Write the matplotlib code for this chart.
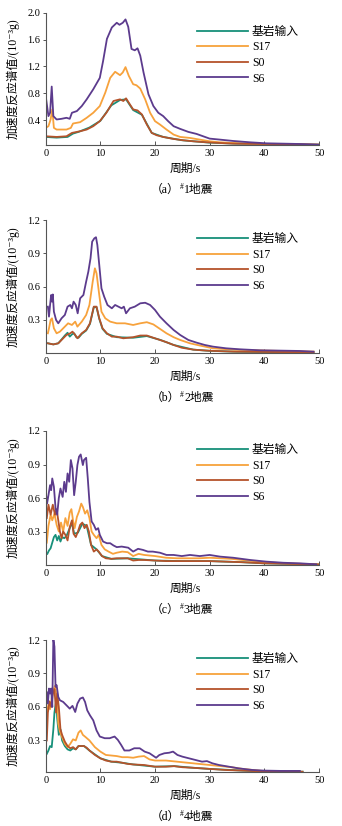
import matplotlib
matplotlib.use("Agg")
import matplotlib.pyplot as plt
import matplotlib.transforms as mtransforms

plt.rcParams['font.family'] = ['Liberation Serif', 'Noto Sans CJK SC', 'DejaVu Sans']

# ---- data ----
NAMES = ['基岩输入', 'S17', 'S0', 'S6']
COLORS = ['#17907a', '#f7a23c', '#b5532b', '#5c3b8d']
CAPTIONS = ['（a）', '（b）', '（c）', '（d）']
QUAKES = ['1地震', '2地震', '3地震', '4地震']

# (a) #1
A_BED_T = [0, 1, 2, 3, 4, 5, 6, 8, 10, 12, 13.6, 14.7, 16, 17.6, 19.4, 21.5, 25, 30, 35, 40, 45, 50]
A_BED_V = [0.15, 0.145, 0.14, 0.145, 0.15, 0.20, 0.225, 0.29, 0.39, 0.62, 0.70, 0.71, 0.55, 0.48, 0.21, 0.15, 0.10, 0.065, 0.05, 0.045, 0.04, 0.035]
A_S17_T = [0, 0.5, 0.9, 1.2, 1.5, 2.0, 3.8, 4.6, 5.0, 6.3, 7.5, 8.7, 9.9, 10.9, 11.8, 12.7, 13.6, 14.1, 14.6, 15.2,
           16.0, 16.6, 17.3, 18.2, 19.1, 20.0, 20.9, 22.1, 23.4, 24.6, 26.4, 28.2, 30, 31.9, 34.3, 37.4, 40.4, 45, 50]
A_S17_V = [0.285, 0.31, 0.41, 0.56, 0.285, 0.26, 0.26, 0.285, 0.35, 0.37, 0.435, 0.51, 0.61, 0.81, 1.03, 1.12, 1.07, 1.11, 1.19, 1.06,
           0.935, 0.92, 0.87, 0.71, 0.51, 0.385, 0.335, 0.26, 0.185, 0.15, 0.135, 0.11, 0.085, 0.07, 0.06, 0.05, 0.045, 0.04, 0.035]
A_S0_T = [0, 2.0, 3.8, 4.8, 6.3, 7.5, 8.7, 9.9, 11.1, 12.4, 13.6, 14.2, 14.7, 15.4, 16.0, 16.8, 17.6, 18.5, 19.4,
          20.3, 21.5, 23.4, 25.2, 27, 29.5, 34.3, 40.4, 45, 50]
A_S0_V = [0.16, 0.15, 0.16, 0.21, 0.235, 0.26, 0.31, 0.385, 0.51, 0.685, 0.71, 0.685, 0.725, 0.635, 0.56, 0.545, 0.485, 0.335, 0.21,
          0.175, 0.15, 0.12, 0.10, 0.085, 0.07, 0.05, 0.045, 0.04, 0.035]
A_S6_T = [0, 0.5, 0.8, 1.1, 1.4, 2.0, 2.9, 3.8, 4.4, 4.8, 5.7, 6.6, 7.5, 8.7, 9.9, 10.5, 11.2, 12.1, 13.0, 13.5, 14.1,
          14.6, 15.1, 15.7, 16.3, 16.8, 17.3, 17.9, 18.8, 19.7, 20.6, 21.5, 22.4, 23.4, 24.6, 26.1, 27.6, 28.8, 30.0,
          31.9, 34.3, 37.4, 40.4, 43.5, 46.5, 50]
A_S6_V = [0.76, 0.46, 0.51, 0.90, 0.46, 0.41, 0.42, 0.435, 0.42, 0.51, 0.535, 0.61, 0.71, 0.86, 1.03, 1.28, 1.61, 1.78, 1.85, 1.82, 1.85,
          1.90, 1.79, 1.46, 1.44, 1.47, 1.36, 1.11, 0.785, 0.61, 0.51, 0.46, 0.385, 0.31, 0.27, 0.225, 0.195, 0.16, 0.125,
          0.11, 0.09, 0.07, 0.055, 0.05, 0.045, 0.035]

# (b) #2
B_BED_T = [0.4, 1.4, 2.3, 3.0, 3.5, 4.0, 4.4, 4.8, 5.2, 5.6, 6.0, 6.6, 7.4, 8.1, 8.8, 9.3, 9.8, 10.4, 11.2, 13, 16,
           18.5, 21, 23.4, 27, 30, 35, 40, 45, 49]
B_BED_V = [0.09, 0.08, 0.09, 0.13, 0.16, 0.185, 0.15, 0.17, 0.18, 0.145, 0.14, 0.175, 0.205, 0.265, 0.415, 0.415, 0.31, 0.22, 0.175, 0.145, 0.14,
           0.155, 0.12, 0.075, 0.033, 0.022, 0.014, 0.011, 0.009, 0.008]
B_S17_T = [0.4, 0.6, 0.9, 1.15, 1.5, 2.0, 2.6, 3.5, 4.1, 4.8, 5.4, 5.8, 6.6, 7.4, 8.0, 8.6, 9.0, 9.3, 9.8, 10.2, 10.9,
           11.8, 13, 14.5, 16.0, 17.3, 18.5, 19.7, 20.9, 22.1, 23.4, 24.6, 26.4, 28.2, 30.6, 34.3, 40.4, 49]
B_S17_V = [0.18, 0.225, 0.30, 0.315, 0.225, 0.18, 0.195, 0.24, 0.27, 0.255, 0.285, 0.24, 0.285, 0.345, 0.435, 0.645, 0.765, 0.72, 0.525, 0.375, 0.315,
           0.285, 0.27, 0.27, 0.255, 0.27, 0.28, 0.26, 0.22, 0.18, 0.145, 0.12, 0.09, 0.07, 0.045, 0.033, 0.024, 0.015]
B_S0_T = [0.4, 1.4, 2.3, 3.2, 3.8, 4.5, 4.9, 5.4, 5.8, 6.6, 7.4, 8.1, 8.8, 9.3, 9.8, 10.4, 11.2, 12.1, 13, 14.2, 15.1,
          16, 17.3, 18.5, 19.7, 20.9, 22.1, 23.4, 24.9, 27, 29.5, 34.3, 40.4, 49]
B_S0_V = [0.09, 0.08, 0.09, 0.135, 0.165, 0.18, 0.195, 0.165, 0.135, 0.18, 0.21, 0.27, 0.42, 0.42, 0.315, 0.225, 0.18, 0.15, 0.15, 0.135, 0.14,
          0.145, 0.16, 0.16, 0.14, 0.12, 0.10, 0.075, 0.05, 0.033, 0.024, 0.015, 0.012, 0.009]
B_S6_T = [0.4, 0.6, 0.8, 1.0, 1.15, 1.3, 1.5, 1.9, 2.3, 2.9, 3.5, 4.0, 4.5, 4.8, 5.1, 5.5, 5.85, 6.3, 6.9, 7.4, 7.8,
          8.2, 8.5, 8.9, 9.2, 9.45, 9.8, 10.2, 10.7, 11.3, 12.1, 12.7, 13.3, 13.9, 14.3, 14.7, 15.4, 16.3, 17.3, 18.2,
          19.1, 20.0, 20.9, 22.1, 23.4, 24.6, 26.1, 27.6, 29.1, 30.6, 33, 35.5, 39.2, 42.9, 46.5, 49]
B_S6_V = [0.42, 0.33, 0.435, 0.525, 0.465, 0.53, 0.375, 0.30, 0.27, 0.315, 0.345, 0.42, 0.435, 0.405, 0.465, 0.435, 0.36, 0.495, 0.525, 0.645, 0.735,
          0.855, 1.005, 1.035, 1.045, 0.975, 0.795, 0.585, 0.51, 0.435, 0.405, 0.435, 0.42, 0.405, 0.42, 0.36, 0.405, 0.42, 0.45, 0.455,
          0.435, 0.39, 0.33, 0.27, 0.21, 0.165, 0.12, 0.096, 0.075, 0.06, 0.045, 0.036, 0.027, 0.024, 0.021, 0.015]

# (c) #3
C_BED_T = [0.3, 0.6, 0.9, 1.2, 1.5, 1.8, 2.1, 2.4, 2.7, 3.0, 3.4, 3.8, 4.4, 4.8, 5.2, 5.9, 6.7, 7.5, 8.3, 9.3, 10.3,
           12, 15, 20, 25, 30, 36, 40, 45, 50]
C_BED_V = [0.10, 0.13, 0.15, 0.20, 0.25, 0.27, 0.22, 0.26, 0.21, 0.25, 0.24, 0.26, 0.33, 0.38, 0.28, 0.29, 0.37, 0.35, 0.18, 0.14, 0.08,
           0.055, 0.06, 0.04, 0.035, 0.035, 0.025, 0.015, 0.01, 0.005]
C_S17_T = [0.2, 0.5, 0.9, 1.2, 1.6, 2.0, 2.4, 2.8, 3.2, 3.6, 4.0, 4.4, 4.7, 5.0, 5.3, 5.7, 6.1, 6.5, 6.8, 7.2, 7.6,
           8.0, 8.4, 8.8, 9.3, 9.7, 10.2, 10.8, 11.5, 12.3, 13, 14, 15, 16, 17, 18, 19, 20, 22, 24, 26, 28, 30, 32,
           34, 36, 38, 40, 44, 48, 50]
C_S17_V = [0.20, 0.35, 0.45, 0.40, 0.46, 0.36, 0.30, 0.38, 0.30, 0.42, 0.35, 0.47, 0.50, 0.40, 0.33, 0.43, 0.48, 0.55, 0.52, 0.46, 0.49,
           0.42, 0.30, 0.27, 0.24, 0.27, 0.18, 0.14, 0.12, 0.10, 0.11, 0.12, 0.115, 0.08, 0.10, 0.09, 0.085, 0.08, 0.065, 0.06, 0.06, 0.06, 0.065, 0.06,
           0.055, 0.045, 0.035, 0.025, 0.015, 0.008, 0.005]
C_S0_T = [0.2, 0.5, 0.9, 1.3, 1.7, 2.0, 2.3, 2.6, 2.9, 3.2, 3.6, 4.0, 4.4, 4.8, 5.1, 5.5, 5.9, 6.3, 6.7, 7.1, 7.5,
          7.9, 8.3, 8.8, 9.3, 9.7, 10.3, 11, 12, 13, 14, 15, 16, 17, 18, 20, 22, 25, 28, 30, 33, 36, 40, 45, 50]
C_S0_V = [0.42, 0.54, 0.45, 0.54, 0.45, 0.50, 0.40, 0.30, 0.24, 0.30, 0.27, 0.22, 0.34, 0.40, 0.28, 0.25, 0.30, 0.36, 0.38, 0.33, 0.36,
          0.30, 0.18, 0.12, 0.14, 0.12, 0.08, 0.06, 0.055, 0.06, 0.06, 0.06, 0.04, 0.045, 0.045, 0.04, 0.035, 0.035, 0.035, 0.035, 0.03, 0.025, 0.015, 0.01, 0.005]
C_S6_T = [0, 0.25, 0.5, 0.8, 1.0, 1.2, 1.5, 1.8, 2.1, 2.4, 2.7, 3.1, 3.4, 3.7, 4.0, 4.3, 4.6, 4.9, 5.2, 5.5, 5.8,
          6.1, 6.4, 6.8, 7.0, 7.4, 7.7, 8.0, 8.4, 8.8, 9.2, 9.6, 9.9, 10.5, 11.2, 11.8, 12.4, 13, 13.9, 15.1, 16,
          16.9, 17.8, 18.7, 19.6, 20.9, 22.1, 23.4, 24.9, 26.4, 28.2, 30, 31.9, 34.3, 37.4, 40.4, 43.5, 46.5, 49.5]
C_S6_V = [0.655, 0.55, 0.625, 0.715, 0.67, 0.775, 0.70, 0.51, 0.45, 0.60, 0.685, 0.61, 0.745, 0.655, 0.82, 0.745, 0.94, 0.865, 0.625, 0.745, 0.895,
          0.97, 0.99, 0.895, 0.94, 0.96, 0.775, 0.565, 0.39, 0.36, 0.315, 0.33, 0.27, 0.21, 0.195, 0.195, 0.175, 0.16, 0.165, 0.155, 0.12,
          0.145, 0.135, 0.12, 0.12, 0.11, 0.09, 0.09, 0.08, 0.09, 0.08, 0.09, 0.075, 0.065, 0.045, 0.03, 0.02, 0.015, 0.006]

# (d) #4
D_BED_T = [0.2, 0.5, 0.8, 1.1, 1.4, 1.6, 1.9, 2.1, 2.4, 2.7, 3.0, 3.5, 4.0, 4.5, 5.0, 5.5, 6.0, 7.0, 8, 10, 12, 14,
           16, 20, 23.5, 27, 30, 36, 40, 44, 47]
D_BED_V = [0.18, 0.21, 0.25, 0.24, 0.40, 0.55, 0.65, 0.50, 0.35, 0.40, 0.30, 0.25, 0.22, 0.21, 0.23, 0.22, 0.25, 0.25, 0.21, 0.14, 0.11, 0.10,
           0.085, 0.065, 0.07, 0.055, 0.045, 0.03, 0.022, 0.02, 0.02]
D_S17_T = [0.2, 0.5, 0.8, 1.1, 1.4, 1.7, 2.0, 2.3, 2.6, 3.0, 3.5, 4.0, 4.5, 5.0, 5.5, 6.0, 6.4, 6.8, 7.3, 8, 9, 10,
           11, 12, 13, 14, 15, 16, 17, 18, 19, 20, 22, 24, 26, 28, 30, 32, 34, 36, 38, 40, 43, 46]
D_S17_V = [0.55, 0.62, 0.58, 0.68, 0.75, 0.79, 0.70, 0.45, 0.38, 0.33, 0.27, 0.24, 0.27, 0.31, 0.30, 0.37, 0.39, 0.35, 0.33, 0.30, 0.24, 0.20,
           0.17, 0.165, 0.16, 0.15, 0.15, 0.145, 0.155, 0.16, 0.13, 0.12, 0.12, 0.11, 0.10, 0.09, 0.08, 0.07, 0.06, 0.045, 0.035, 0.025, 0.02, 0.02]
D_S0_T = [0.2, 0.4, 0.7, 1.0, 1.3, 1.6, 1.9, 2.1, 2.4, 2.7, 3.0, 3.5, 4.0, 4.5, 5.0, 5.5, 6.0, 6.5, 7.0, 7.5, 8, 9,
          10, 11, 12, 13, 14, 15, 16, 18, 20, 22, 23.5, 25, 27, 30, 33, 36, 40, 44, 47]
D_S0_V = [0.30, 0.55, 0.65, 0.60, 0.72, 0.76, 0.55, 0.72, 0.60, 0.40, 0.35, 0.29, 0.25, 0.23, 0.24, 0.22, 0.25, 0.25, 0.25, 0.235, 0.21, 0.17,
          0.14, 0.12, 0.11, 0.11, 0.10, 0.09, 0.085, 0.08, 0.065, 0.065, 0.07, 0.06, 0.055, 0.045, 0.035, 0.03, 0.022, 0.02, 0.02]
D_S6_T = [0, 0.2, 0.4, 0.6, 0.8, 1.0, 1.2, 1.4, 1.6, 1.8, 2.0, 2.3, 2.6, 3.2, 3.8, 4.4, 4.9, 5.4, 5.8, 6.3, 6.8,
          7.2, 7.6, 8.1, 8.7, 9.3, 9.9, 10.8, 11.7, 12.6, 13.2, 13.8, 14.4, 15.3, 16.2, 17.2, 18.1, 19.0, 20.2, 20.8,
          21.7, 22.6, 23.3, 24.1, 25, 26.2, 27.4, 28.6, 29.5, 30.5, 31.7, 33.5, 35.3, 37.7, 39.8, 43, 46.5]
D_S6_V = [0.63, 0.735, 0.63, 0.765, 0.72, 0.765, 0.60, 1.21, 1.14, 0.78, 0.795, 0.69, 0.66, 0.645, 0.615, 0.585, 0.61, 0.555, 0.63, 0.675, 0.685,
          0.645, 0.57, 0.525, 0.48, 0.39, 0.335, 0.32, 0.32, 0.335, 0.305, 0.26, 0.21, 0.21, 0.23, 0.23, 0.20, 0.185, 0.145, 0.17,
          0.185, 0.19, 0.20, 0.17, 0.155, 0.14, 0.125, 0.11, 0.115, 0.095, 0.08, 0.065, 0.05, 0.036, 0.03, 0.027, 0.027]

PANELS = [
    [(A_BED_T, A_BED_V), (A_S17_T, A_S17_V), (A_S0_T, A_S0_V), (A_S6_T, A_S6_V)],
    [(B_BED_T, B_BED_V), (B_S17_T, B_S17_V), (B_S0_T, B_S0_V), (B_S6_T, B_S6_V)],
    [(C_BED_T, C_BED_V), (C_S17_T, C_S17_V), (C_S0_T, C_S0_V), (C_S6_T, C_S6_V)],
    [(D_BED_T, D_BED_V), (D_S17_T, D_S17_V), (D_S0_T, D_S0_V), (D_S6_T, D_S6_V)],
]
YTICKS = [[0.4, 0.8, 1.2, 1.6, 2.0], [0.3, 0.6, 0.9, 1.2], [0.3, 0.6, 0.9, 1.2], [0.3, 0.6, 0.9, 1.2]]
YLIMS = [(0.03, 2.0), (0.0, 1.2), (0.0, 1.2), (0.02, 1.2)]
XTICKS = [0, 10, 20, 30, 40, 50]

# ---- layout ----
W, H = 342, 826
fig = plt.figure(figsize=(W / 100, H / 100), dpi=100)
# (top px, bottom px) of each axes
boxes = [(12.7, 145.0), (220.0, 353.3), (431.0, 565.0), (640.0, 771.7)]
left_px, right_px = 45.7, 319.0

for i, (top, bot) in enumerate(boxes):
    ax = fig.add_axes([left_px / W, 1 - bot / H, (right_px - left_px) / W, (bot - top) / H])
    for (t, v), name, c in zip(PANELS[i], NAMES, COLORS):
        ax.plot(t, v, color=c, lw=1.3, label=name, solid_joinstyle='round')
    ax.set_xlim(0, 50)
    ax.set_ylim(*YLIMS[i])
    ax.set_xticks(XTICKS)
    ax.set_yticks(YTICKS[i])
    ax.set_yticklabels(['%.1f' % y for y in YTICKS[i]])
    for s in ['top', 'right']:
        ax.spines[s].set_visible(False)
    for s in ['left', 'bottom']:
        ax.spines[s].set_color('#555555')
        ax.spines[s].set_linewidth(0.8)
    ax.tick_params(axis='x', direction='in', length=3, width=0.7, color='#555555', labelsize=7.5, pad=3)
    ax.tick_params(axis='y', direction='out', length=2.5, width=0.7, color='#555555', labelsize=7.5, pad=1.5)
    ax.set_ylabel('加速度反应谱值/(10⁻³g)', fontsize=8.5)
    ax.yaxis.set_label_coords(-0.095, 0.5)
    ax.set_xlabel('周期/s', fontsize=8.5)
    ax.xaxis.set_label_coords(0.51, -0.135)

    # caption: "(a) #1地震" with a raised "#"
    base = ax.transAxes + mtransforms.ScaledTranslation(0, -45 / 100, fig.dpi_scale_trans)
    t1 = ax.text(0.385, 0, CAPTIONS[i], transform=base, ha='left', va='center', fontsize=8.5)
    fig.canvas.draw()
    bb = t1.get_window_extent()
    x1 = ax.transAxes.inverted().transform((bb.x1, bb.y0))[0]
    raised = ax.transAxes + mtransforms.ScaledTranslation(0, -42 / 100, fig.dpi_scale_trans)
    t2 = ax.text(x1, 0, '#', transform=raised, ha='left', va='center', fontsize=5.5)
    bb2 = t2.get_window_extent()
    x2 = ax.transAxes.inverted().transform((bb2.x1, bb2.y0))[0]
    ax.text(x2, 0, QUAKES[i], transform=base, ha='left', va='center', fontsize=8.5)

    ax.legend(loc='upper left', bbox_to_anchor=(0.554, 0.90), frameon=False, fontsize=8.5,
              handlelength=4.3, handletextpad=0.35, labelspacing=0.3, borderpad=0, borderaxespad=0)

fig.savefig('out.png', dpi=100)
